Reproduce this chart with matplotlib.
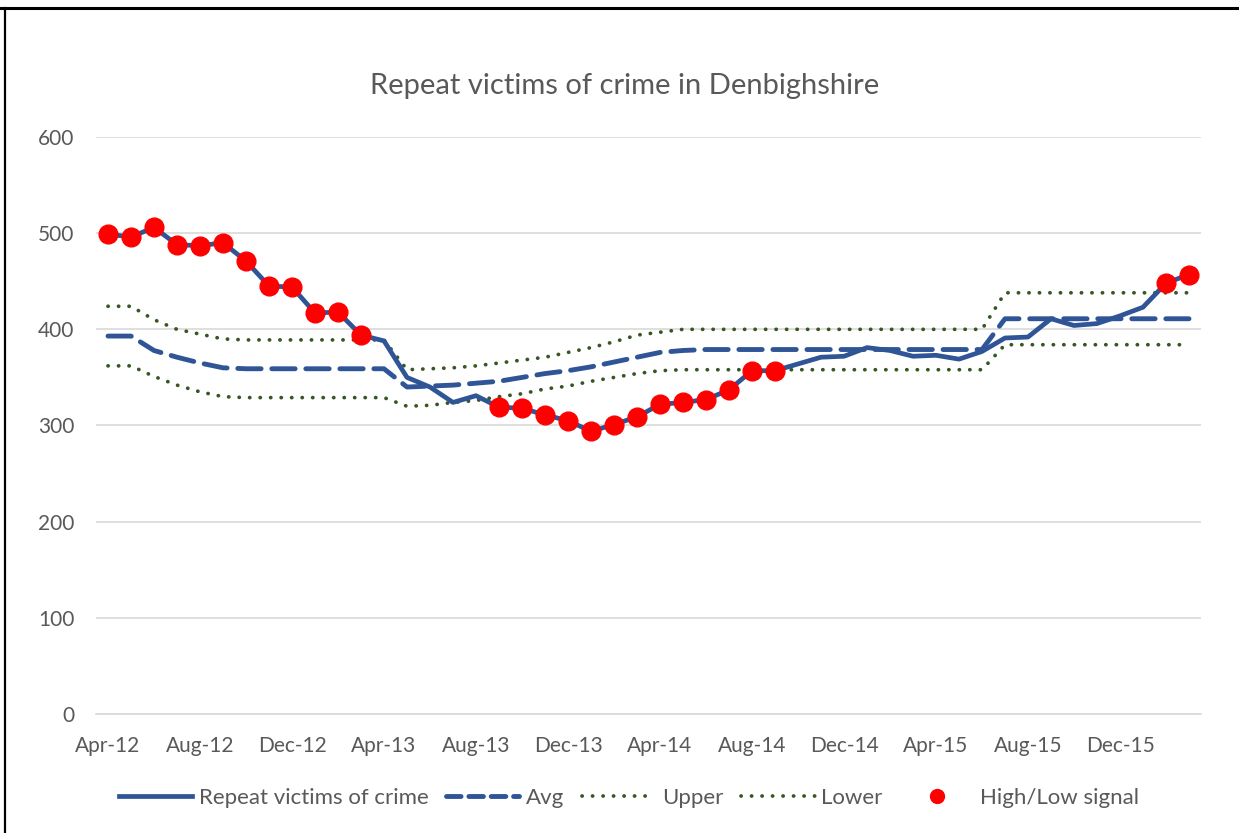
import matplotlib
matplotlib.use('Agg')
import matplotlib.pyplot as plt
from matplotlib.lines import Line2D
import numpy as np

# Monthly data, Apr-12 .. Mar-16
months = ["Apr-12", "May-12", "Jun-12", "Jul-12", "Aug-12", "Sep-12", "Oct-12", "Nov-12",
          "Dec-12", "Jan-13", "Feb-13", "Mar-13", "Apr-13", "May-13", "Jun-13", "Jul-13",
          "Aug-13", "Sep-13", "Oct-13", "Nov-13", "Dec-13", "Jan-14", "Feb-14", "Mar-14",
          "Apr-14", "May-14", "Jun-14", "Jul-14", "Aug-14", "Sep-14", "Oct-14", "Nov-14",
          "Dec-14", "Jan-15", "Feb-15", "Mar-15", "Apr-15", "May-15", "Jun-15", "Jul-15",
          "Aug-15", "Sep-15", "Oct-15", "Nov-15", "Dec-15", "Jan-16", "Feb-16", "Mar-16"]

repeat_victims = [499, 496, 506, 488, 487, 490, 471, 445, 444, 417, 418, 394,
                  388, 350, 340, 324, 331, 319, 318, 311, 305, 294, 301, 309,
                  322, 324, 327, 337, 357, 357, 364, 371, 372, 381, 378, 372,
                  373, 369, 377, 391, 392, 411, 404, 406, 414, 423, 448, 457]

avg = [393, 393, 378, 371, 365, 360, 359, 359, 359, 359, 359, 359,
       359, 340, 341, 342, 344, 346, 350, 354, 357, 361, 366, 371,
       376, 378, 379, 379, 379, 379, 379, 379, 379, 379, 379, 379,
       379, 379, 379, 411, 411, 411, 411, 411, 411, 411, 411, 411]

upper = [424, 424, 410, 400, 395, 390, 389, 389, 389, 389, 389, 389,
         389, 358, 359, 360, 362, 365, 368, 371, 376, 381, 387, 394,
         397, 400, 400, 400, 400, 400, 400, 400, 400, 400, 400, 400,
         400, 400, 400, 438, 438, 438, 438, 438, 438, 438, 438, 438]

lower = [362, 362, 351, 342, 335, 330, 329, 329, 329, 329, 329, 329,
         329, 320, 321, 324, 326, 330, 333, 338, 341, 346, 350, 354,
         357, 358, 358, 358, 358, 358, 358, 358, 358, 358, 358, 358,
         358, 358, 358, 384, 384, 384, 384, 384, 384, 384, 384, 384]

# indices flagged as high/low signal
signal_idx = [0, 1, 2, 3, 4, 5, 6, 7, 8, 9, 10, 11,
              17, 18, 19, 20, 21, 22, 23, 24, 25, 26, 27, 28, 29, 46, 47]

plt.rcParams['font.family'] = ['Lato', 'DejaVu Sans']
text_col = '#595959'
blue = '#2F5597'
green = '#375623'

fig = plt.figure(figsize=(12.39, 8.33), dpi=100)
ax = fig.add_axes([96.5 / 1239, 119 / 833, 1104 / 1239, 577 / 833])

x = np.arange(len(months))
ax.plot(x, repeat_victims, color=blue, lw=3.4, solid_joinstyle='round', zorder=3)
ax.plot(x, avg, color=blue, lw=3.5, linestyle=(0, (4.8, 2.2)), dash_capstyle='round', zorder=2)
ax.plot(x, upper, color=green, lw=2.7, linestyle=(0, (0.05, 2.75)), dash_capstyle='round', zorder=2)
ax.plot(x, lower, color=green, lw=2.7, linestyle=(0, (0.05, 2.75)), dash_capstyle='round', zorder=2)
sig_y = [repeat_victims[i] for i in signal_idx]
ax.plot(signal_idx, sig_y, linestyle='none', marker='o', ms=13.5, color='#FF0000', zorder=4)

ax.set_xlim(-0.5, len(months) - 0.5)
ax.set_ylim(0, 600)
ax.set_yticks(range(0, 601, 100))
ax.set_xticks(x[::4])
ax.set_xticklabels(months[::4])
ax.grid(axis='y', color='#D9D9D9', lw=1.2)
ax.set_axisbelow(True)
for s in ['top', 'right', 'left']:
    ax.spines[s].set_visible(False)
ax.spines['bottom'].set_color('#D9D9D9')
ax.spines['bottom'].set_linewidth(1.2)
ax.tick_params(axis='both', length=0, labelsize=15, colors=text_col)
ax.tick_params(axis='y', pad=16)
ax.tick_params(axis='x', pad=16)

fig.text(625 / 1239, 1 - 86 / 833, "Repeat victims of crime in Denbighshire",
         ha='center', va='center', fontsize=21, color=text_col)

handles = [
    Line2D([], [], color=blue, lw=3.4),
    Line2D([], [], color=blue, lw=3.5, linestyle=(0, (3, 1.6)), dash_capstyle='round'),
    Line2D([], [], color=green, lw=2.7, linestyle=(0, (0.05, 2.75)), dash_capstyle='round'),
    Line2D([], [], color=green, lw=2.7, linestyle=(0, (0.05, 2.75)), dash_capstyle='round'),
    Line2D([], [], linestyle='none', marker='o', ms=10, color='#FF0000'),
]
labels = ["Repeat victims of crime", "Avg", "Upper", "Lower", "High/Low signal"]
fig.legend(handles, labels, loc='center', bbox_to_anchor=(629 / 1239, 1 - 798 / 833),
           ncol=5, frameon=False, fontsize=16, labelcolor=text_col,
           handlelength=3.3, handletextpad=0.3, columnspacing=0.8)

# chart border (top and left edges visible in the crop)
fig.add_artist(Line2D([0, 1], [1 - 8 / 833, 1 - 8 / 833], color='black', lw=2.2,
                      transform=fig.transFigure))
fig.add_artist(Line2D([5 / 1239, 5 / 1239], [0, 1 - 8 / 833], color='black', lw=1.6,
                      transform=fig.transFigure))

fig.savefig('out.png', dpi=100)
